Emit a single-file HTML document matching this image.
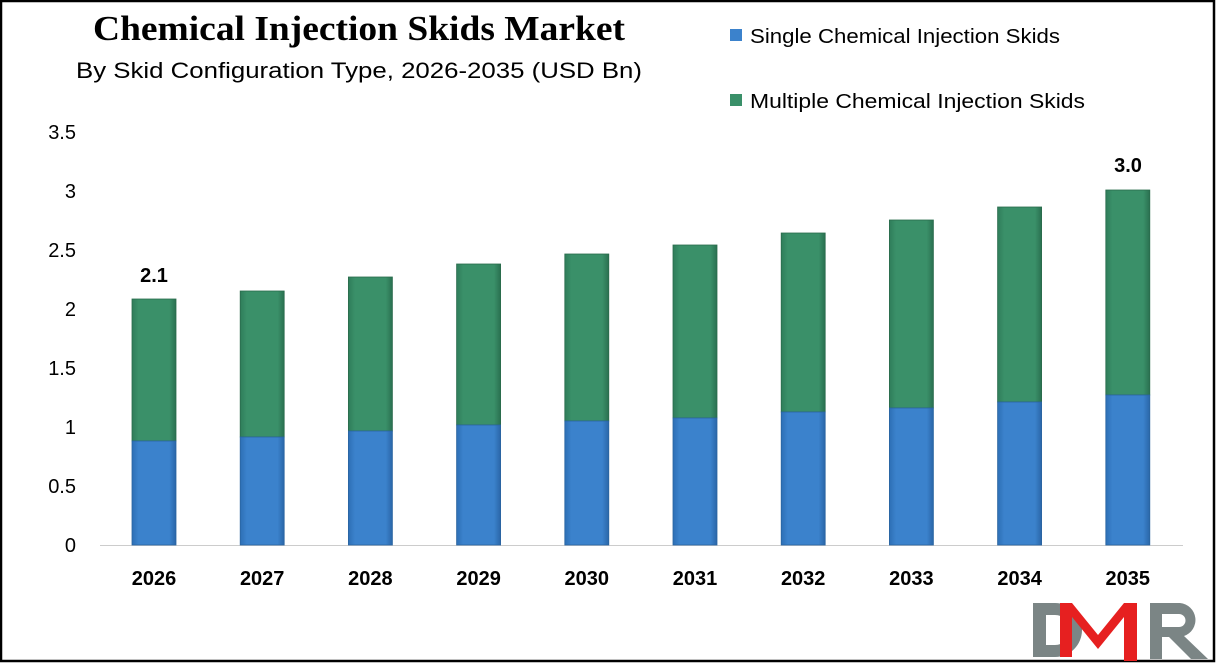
<!DOCTYPE html>
<html><head><meta charset="utf-8"><style>
html,body{margin:0;padding:0;background:#fff;}
svg{display:block;}
</style></head><body>
<svg width="1216" height="663" viewBox="0 0 1216 663" xmlns="http://www.w3.org/2000/svg">
<defs>
<linearGradient id="g" x1="0" x2="1" y1="0" y2="0">
<stop offset="0" stop-color="#2f7d5a"/><stop offset="0.15" stop-color="#3a9069"/><stop offset="0.85" stop-color="#3a9069"/><stop offset="1" stop-color="#2a7050"/>
</linearGradient>
<linearGradient id="b" x1="0" x2="1" y1="0" y2="0">
<stop offset="0" stop-color="#2d6fb5"/><stop offset="0.15" stop-color="#3b82cc"/><stop offset="0.85" stop-color="#3b82cc"/><stop offset="1" stop-color="#2a66a8"/>
</linearGradient>
</defs>
<rect x="1" y="1" width="1213" height="660" fill="#fff" stroke="#000" stroke-width="2.5"/>
<text x="359" y="40" font-family="Liberation Serif, serif" font-weight="bold" font-size="35" text-anchor="middle" textLength="532" lengthAdjust="spacingAndGlyphs">Chemical Injection Skids Market</text>
<text x="359" y="78" font-family="Liberation Sans, sans-serif" font-size="22" text-anchor="middle" textLength="566" lengthAdjust="spacingAndGlyphs">By Skid Configuration Type, 2026-2035 (USD Bn)</text>
<rect x="730" y="29" width="12" height="12" fill="#3b82cc"/>
<text x="750" y="43" font-family="Liberation Sans, sans-serif" font-size="20" textLength="310" lengthAdjust="spacingAndGlyphs">Single Chemical Injection Skids</text>
<rect x="730" y="94" width="12" height="12" fill="#3a9069"/>
<text x="750" y="108" font-family="Liberation Sans, sans-serif" font-size="20" textLength="335" lengthAdjust="spacingAndGlyphs">Multiple Chemical Injection Skids</text>
<g font-family="Liberation Sans, sans-serif" font-size="20" text-anchor="end" fill="#000">
<text x="76" y="139">3.5</text><text x="76" y="198">3</text><text x="76" y="257">2.5</text><text x="76" y="316">2</text><text x="76" y="375">1.5</text><text x="76" y="434">1</text><text x="76" y="493">0.5</text><text x="76" y="552">0</text>
</g>
<line x1="100" y1="545.5" x2="1183" y2="545.5" stroke="#ccc" stroke-width="1"/>
<g stroke-width="0.8">
<rect x="132" y="299" width="44" height="142" fill="url(#g)" stroke="#2a6b4c"/><rect x="132" y="441" width="44" height="104" fill="url(#b)" stroke="#2a64a0"/>
<rect x="240.2" y="291" width="44" height="146" fill="url(#g)" stroke="#2a6b4c"/><rect x="240.2" y="437" width="44" height="108" fill="url(#b)" stroke="#2a64a0"/>
<rect x="348.4" y="277" width="44" height="154" fill="url(#g)" stroke="#2a6b4c"/><rect x="348.4" y="431" width="44" height="114" fill="url(#b)" stroke="#2a64a0"/>
<rect x="456.6" y="264" width="44" height="161" fill="url(#g)" stroke="#2a6b4c"/><rect x="456.6" y="425" width="44" height="120" fill="url(#b)" stroke="#2a64a0"/>
<rect x="564.8" y="254" width="44" height="167" fill="url(#g)" stroke="#2a6b4c"/><rect x="564.8" y="421" width="44" height="124" fill="url(#b)" stroke="#2a64a0"/>
<rect x="673" y="245" width="44" height="173" fill="url(#g)" stroke="#2a6b4c"/><rect x="673" y="418" width="44" height="127" fill="url(#b)" stroke="#2a64a0"/>
<rect x="781.2" y="233" width="44" height="179" fill="url(#g)" stroke="#2a6b4c"/><rect x="781.2" y="412" width="44" height="133" fill="url(#b)" stroke="#2a64a0"/>
<rect x="889.4" y="220" width="44" height="188" fill="url(#g)" stroke="#2a6b4c"/><rect x="889.4" y="408" width="44" height="137" fill="url(#b)" stroke="#2a64a0"/>
<rect x="997.6" y="207" width="44" height="195" fill="url(#g)" stroke="#2a6b4c"/><rect x="997.6" y="402" width="44" height="143" fill="url(#b)" stroke="#2a64a0"/>
<rect x="1105.8" y="190" width="44" height="205" fill="url(#g)" stroke="#2a6b4c"/><rect x="1105.8" y="395" width="44" height="150" fill="url(#b)" stroke="#2a64a0"/>
</g>
<g font-family="Liberation Sans, sans-serif" font-weight="bold" font-size="20" text-anchor="middle">
<text x="154" y="282">2.1</text><text x="1128" y="172">3.0</text>
</g>
<g font-family="Liberation Sans, sans-serif" font-weight="bold" font-size="20" text-anchor="middle">
<text x="154" y="585">2026</text><text x="262.2" y="585">2027</text><text x="370.4" y="585">2028</text><text x="478.6" y="585">2029</text><text x="586.8" y="585">2030</text><text x="695" y="585">2031</text><text x="803.2" y="585">2032</text><text x="911.4" y="585">2033</text><text x="1019.6" y="585">2034</text><text x="1127.8" y="585">2035</text>
</g>
<g>
<path d="M1033 603 h22 a27 27 0 0 1 0 54 h-22 z M1046 615 v30 h9 a15 15 0 0 0 0 -30 z" fill="#7b8585" fill-rule="evenodd"/>
<path d="M1060 657 h12 v-40 l26 32 l26 -32 v44 h13 v-58 h-13 l-26 32 l-26 -32 h-12 z" fill="#e62020"/>
<path d="M1150 603 h30 a17 17 0 0 1 4 33 l24 23 h-17 l-22 -22 h-7 v22 h-12 z M1162 614 v13 h17 a6.5 6.5 0 0 0 0 -13 z" fill="#7b8585" fill-rule="evenodd"/>
</g>
</svg>
</body></html>
